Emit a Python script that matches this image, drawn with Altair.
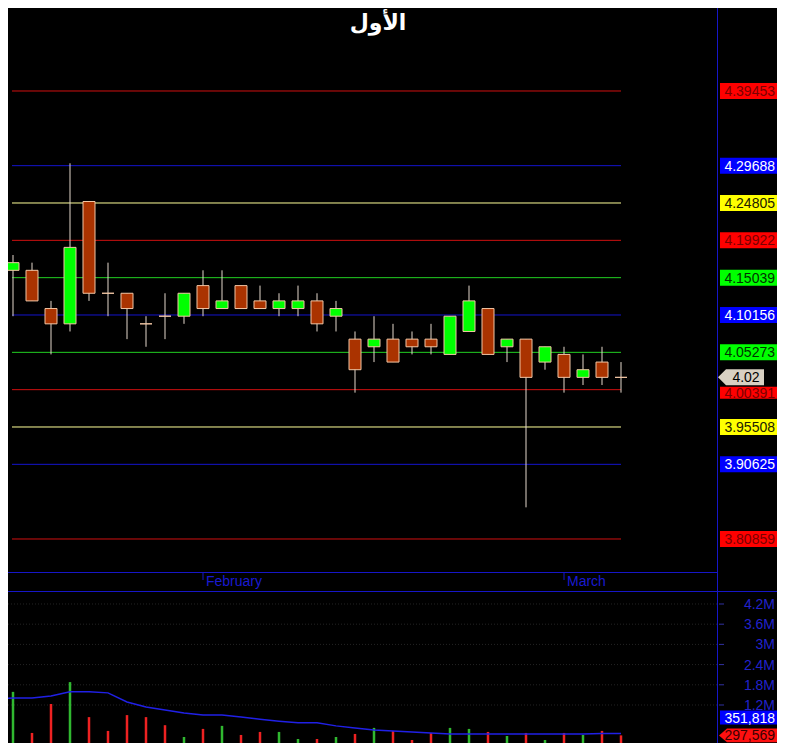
import altair as alt
import pandas as pd

# ---------------- data ----------------
title_text = "الأول"

# daily candles (index 1..33)
opens  = [4.16, 4.16, 4.11, 4.09, 4.25, 4.13, 4.13, 4.09, 4.10, 4.10, 4.14, 4.11, 4.14, 4.12, 4.11, 4.11, 4.12,
          4.10, 4.07, 4.06, 4.07, 4.07, 4.07, 4.05, 4.08, 4.11, 4.06, 4.07, 4.04, 4.05, 4.02, 4.04, 4.02]
highs  = [4.18, 4.17, 4.12, 4.30, 4.25, 4.17, 4.13, 4.10, 4.13, 4.13, 4.16, 4.16, 4.14, 4.14, 4.13, 4.14, 4.13,
          4.12, 4.08, 4.10, 4.09, 4.08, 4.09, 4.10, 4.14, 4.11, 4.07, 4.07, 4.06, 4.06, 4.05, 4.06, 4.04]
lows   = [4.10, 4.12, 4.05, 4.08, 4.12, 4.10, 4.07, 4.06, 4.07, 4.09, 4.10, 4.11, 4.11, 4.11, 4.10, 4.10, 4.08,
          4.08, 4.00, 4.04, 4.04, 4.05, 4.05, 4.05, 4.08, 4.05, 4.04, 3.85, 4.03, 4.00, 4.01, 4.01, 4.00]
closes = [4.17, 4.12, 4.09, 4.19, 4.13, 4.13, 4.11, 4.09, 4.10, 4.13, 4.11, 4.12, 4.11, 4.11, 4.12, 4.12, 4.09,
          4.11, 4.03, 4.07, 4.04, 4.06, 4.06, 4.10, 4.12, 4.05, 4.07, 4.02, 4.06, 4.02, 4.03, 4.02, 4.02]
volumes = [1590000, 370000, 1230000, 1880000, 840000, 430000, 900000, 840000, 600000, 250000, 490000,
           580000, 310000, 400000, 400000, 190000, 190000, 250000, 340000, 520000, 430000, 160000,
           370000, 520000, 490000, 400000, 280000, 370000, 160000, 370000, 310000, 430000, 297569]
# volume moving average (index 0..33)
vol_ma = [1380000, 1410000, 1410000, 1470000, 1590000, 1590000, 1560000, 1290000, 1140000, 1050000, 960000,
          900000, 900000, 840000, 780000, 720000, 670000, 670000, 580000, 520000, 460000, 430000, 400000,
          370000, 340000, 340000, 340000, 340000, 340000, 340000, 340000, 340000, 350000, 351818]

# horizontal price levels
levels = [4.39453, 4.29688, 4.24805, 4.19922, 4.15039, 4.10156, 4.05273, 4.00391, 3.95508, 3.90625, 3.80859]
level_kinds = ["red", "blue", "yellow", "red", "green", "blue", "green", "red", "yellow", "blue", "red"]

# month labels on the time axis
months = ["February", "March"]
month_idx = [11, 30]

# volume axis
vol_ticks = [1200000, 1800000, 2400000, 3000000, 3600000, 4200000]
vol_tick_labels = ["1.2M", "1.8M", "2.4M", "3M", "3.6M", "4.2M"]

# ---------------- styling ----------------
FONT = "Liberation Sans"
LINE_COL = {"red": "#D01010", "blue": "#1414CC", "yellow": "#FFFF99", "green": "#22D022"}
BOX_COL = {"red": "#FF0000", "blue": "#0000FF", "yellow": "#FFFF00", "green": "#00FF00"}
TXT_COL = {"red": "#7A0000", "blue": "#FFFFFF", "yellow": "#202000", "green": "#003300"}
FRAME = "#1616C8"

W, H = 769, 735
xs = alt.Scale(domain=[14 / 19, 783 / 19], nice=False, zero=False, padding=0)
ps = alt.Scale(domain=[3.541776, 4.503086], nice=False, zero=False, padding=0)
vs = alt.Scale(domain=[71300, 21901000], nice=False, zero=False, padding=0)

BOX_SHAPE = "M -1 -0.2807 L 1 -0.2807 L 1 0.2807 L -1 0.2807 Z"
BOXS_SHAPE = "M -1 -0.2105 L 1 -0.2105 L 1 0.2105 L -1 0.2105 Z"
BOX2_SHAPE = "M -1 -0.2456 L 1 -0.2456 L 1 0.2456 L -1 0.2456 Z"
TAG_SHAPE = "M -1 0 L -0.652 -0.348 L 1 -0.348 L 1 0.348 L -0.652 0.348 Z"
TAG2_SHAPE = "M -1 0 L -0.724 -0.241 L 1 -0.241 L 1 0.241 L -0.724 0.241 Z"

# ---------------- tables ----------------
n = len(opens)
idx = list(range(1, n + 1))
candles = pd.DataFrame({"i": idx, "open": opens, "high": highs, "low": lows, "close": closes,
                        "vol": volumes})
candles["dir"] = ["up" if c > o else "down" for o, c in zip(opens, closes)]
candles["vcol"] = ["#30B830" if d == "up" else "#EE2222" for d in candles["dir"]]

ma_df = pd.DataFrame({"i": list(range(0, len(vol_ma))), "ma": vol_ma})

lv = pd.DataFrame({"level": levels, "kind": level_kinds})
lv["line"] = lv["kind"].map(LINE_COL)
lv["box"] = lv["kind"].map(BOX_COL)
lv["txt"] = lv["kind"].map(TXT_COL)
# the level label next to the current-price tag is pushed aside, as in the original
lv["bump"] = [abs(v - closes[-1]) < 0.02 for v in levels]
lv_free = lv[~lv["bump"]]
lv_bump = lv[lv["bump"]]

last_px = pd.DataFrame({"price": [closes[-1]]})
last_vol = pd.DataFrame({"vol": [volumes[-1]]})
last_ma = pd.DataFrame({"ma": [vol_ma[-1]]})
mon = pd.DataFrame({"month": months, "i": month_idx})
vt = pd.DataFrame({"v": vol_ticks, "lab": vol_tick_labels})
ttl = pd.DataFrame({"t": [title_text]})
one = pd.DataFrame({"k": [0]})

X = alt.X("i:Q", scale=xs, axis=None)

# ---------------- price panel ----------------
level_rules = alt.Chart(lv).mark_rule(strokeWidth=1).encode(
    x=alt.value(4), x2=alt.value(613),
    y=alt.Y("level:Q", scale=ps, axis=None),
    color=alt.Color("line:N", scale=None))

wicks = alt.Chart(candles).mark_rule(color="#E4D8CC", strokeWidth=1).encode(
    x=X, y=alt.Y("low:Q", scale=ps, axis=None), y2="high:Q")

bodies = alt.Chart(candles).mark_bar(size=12, stroke="#F2C6A4", strokeWidth=1, orient="vertical").encode(
    x=X, y=alt.Y("open:Q", scale=ps, axis=None), y2="close:Q",
    fill=alt.Fill("dir:N", scale=alt.Scale(domain=["up", "down"], range=["#00FF00", "#AA3300"]),
                  legend=None))

level_boxes = alt.Chart(lv_free).mark_point(shape=BOX_SHAPE, size=57 ** 2, filled=True, opacity=1,
                                            strokeWidth=0).encode(
    x=alt.value(740.5), y=alt.Y("level:Q", scale=ps, axis=None),
    color=alt.Color("box:N", scale=None))

level_text = alt.Chart(lv_free).mark_text(align="right", baseline="middle", font=FONT, fontSize=14,
                                          dy=1).encode(
    x=alt.value(767), y=alt.Y("level:Q", scale=ps, axis=None),
    text=alt.Text("level:Q", format=".5f"),
    color=alt.Color("txt:N", scale=None))

bump_boxes = alt.Chart(lv_bump).mark_point(shape=BOXS_SHAPE, size=57 ** 2, filled=True, opacity=1,
                                           strokeWidth=0, yOffset=3).encode(
    x=alt.value(740.5), y=alt.Y("level:Q", scale=ps, axis=None),
    color=alt.Color("box:N", scale=None))

bump_text = alt.Chart(lv_bump).mark_text(align="right", baseline="middle", font=FONT, fontSize=14,
                                         dy=4).encode(
    x=alt.value(767), y=alt.Y("level:Q", scale=ps, axis=None),
    text=alt.Text("level:Q", format=".5f"),
    color=alt.Color("txt:N", scale=None))

px_tag = alt.Chart(last_px).mark_point(shape=TAG_SHAPE, size=46 ** 2, filled=True, opacity=1,
                                       strokeWidth=0, color="#D8D0C2").encode(
    x=alt.value(733), y=alt.Y("price:Q", scale=ps, axis=None))

px_text = alt.Chart(last_px).mark_text(align="center", baseline="middle", font=FONT, fontSize=14,
                                       color="#000000", dy=1).encode(
    x=alt.value(738), y=alt.Y("price:Q", scale=ps, axis=None),
    text=alt.Text("price:Q", format=".2f"))

title = alt.Chart(ttl).mark_text(align="center", baseline="middle", font="DejaVu Sans", fontSize=22,
                                 fontWeight="bold", color="#FFFFFF").encode(
    x=alt.value(370), y=alt.value(15), text="t:N")

month_ticks = alt.Chart(mon).mark_rule(color=FRAME, strokeWidth=1).encode(
    x=X, y=alt.value(565), y2=alt.value(572))

month_text = alt.Chart(mon).mark_text(align="left", baseline="alphabetic", font=FONT, fontSize=14,
                                      color="#1A1AD0", dx=3).encode(
    x=X, y=alt.value(578), text="month:N")

frame_v = alt.Chart(one).mark_rule(color=FRAME, strokeWidth=1).encode(
    x=alt.value(709.5), y=alt.value(0), y2=alt.value(H))
frame_h1 = alt.Chart(one).mark_rule(color=FRAME, strokeWidth=1).encode(
    x=alt.value(0), x2=alt.value(709.5), y=alt.value(564.5))
frame_h2 = alt.Chart(one).mark_rule(color=FRAME, strokeWidth=1).encode(
    x=alt.value(0), x2=alt.value(W), y=alt.value(583.5))

price_layer = alt.layer(level_rules, wicks, bodies, level_boxes, level_text, bump_boxes, bump_text,
                        px_tag, px_text, title, month_ticks, month_text, frame_v, frame_h1, frame_h2)

# ---------------- volume panel ----------------
vgrid = alt.Chart(vt).mark_rule(color="#242424", strokeWidth=1, strokeDash=[1, 2]).encode(
    x=alt.value(0), x2=alt.value(709),
    y=alt.Y("v:Q", scale=vs, axis=None))

vticks = alt.Chart(vt).mark_rule(color="#3030A0", strokeWidth=1).encode(
    x=alt.value(711), x2=alt.value(716),
    y=alt.Y("v:Q", scale=vs, axis=None))

vlabels = alt.Chart(vt).mark_text(align="right", baseline="middle", font=FONT, fontSize=14,
                                  color="#2222CC", dy=1).encode(
    x=alt.value(767), y=alt.Y("v:Q", scale=vs, axis=None), text="lab:N")

vbars = alt.Chart(candles).mark_bar(size=2.5, orient="vertical").encode(
    x=X, y=alt.Y("vol:Q", scale=vs, axis=None), y2=alt.datum(0),
    color=alt.Color("vcol:N", scale=None))

ma_line = alt.Chart(ma_df).mark_line(color="#2020E6", strokeWidth=1.5, clip=True).encode(
    x=X, y=alt.Y("ma:Q", scale=vs, axis=None))

ma_box = alt.Chart(last_ma).mark_point(shape=BOX2_SHAPE, size=57 ** 2, filled=True, opacity=1,
                                       strokeWidth=0, color="#0000FF", yOffset=-16).encode(
    x=alt.value(740.5), y=alt.Y("ma:Q", scale=vs, axis=None))

ma_text = alt.Chart(last_ma).mark_text(align="right", baseline="middle", font=FONT, fontSize=14,
                                       color="#FFFFFF", dy=-15).encode(
    x=alt.value(767), y=alt.Y("ma:Q", scale=vs, axis=None),
    text=alt.Text("ma:Q", format=",d"))

vol_tag = alt.Chart(last_vol).mark_point(shape=TAG2_SHAPE, size=58 ** 2, filled=True, opacity=1,
                                         strokeWidth=0, color="#FF1010").encode(
    x=alt.value(740), y=alt.Y("vol:Q", scale=vs, axis=None))

vol_text = alt.Chart(last_vol).mark_text(align="right", baseline="middle", font=FONT, fontSize=14,
                                         color="#3A0000", dy=1).encode(
    x=alt.value(767), y=alt.Y("vol:Q", scale=vs, axis=None),
    text=alt.Text("vol:Q", format=",d"))

volume_layer = alt.layer(vgrid, vticks, vlabels, vbars, ma_line, ma_box, ma_text, vol_tag, vol_text)

chart = alt.layer(price_layer, volume_layer).resolve_scale(y="independent").properties(
    width=W, height=H,
    autosize=alt.AutoSizeParams(type="none"),
    padding=0,
    background="#000000",
).configure_view(strokeWidth=0)

chart.save("out.html", embed_options={"renderer": "svg", "actions": False})
